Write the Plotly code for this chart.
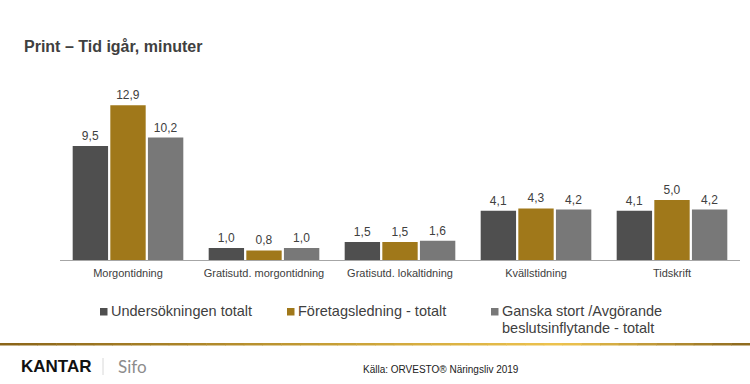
import plotly.graph_objects as go

categories = ["Morgontidning", "Gratisutd. morgontidning", "Gratisutd. lokaltidning", "Kvällstidning", "Tidskrift"]
series_names = ["Undersökningen totalt", "Företagsledning - totalt", "Ganska stort /Avgörande<br>beslutsinflytande - totalt"]
undersokningen = [9.5, 1.0, 1.5, 4.1, 4.1]
foretagsledning = [12.9, 0.8, 1.5, 4.3, 5.0]
ganska_stort = [10.2, 1.0, 1.6, 4.2, 4.2]
series_values = [undersokningen, foretagsledning, ganska_stort]
colors = ["#4f4f4f", "#a0781a", "#787878"]

W, H = 750, 384
L, R, T, B = 60, 10, 92, 124
PW, PH = W - L - R, H - T - B


def px(x):
    return (x - L) / PW


def py(y):
    return (H - B - y) / PH


FONT = "Arial, Liberation Sans, sans-serif"
TXT = "#404040"

fig = go.Figure()
for name, vals, col in zip(series_names, series_values, colors):
    fig.add_trace(go.Bar(
        x=categories, y=vals, name=name.replace("<br>", " "), marker_color=col,
        marker_line_width=0,
        texttemplate="%{y:.1f}", textposition="outside",
        textfont=dict(size=12, color=TXT, family=FONT),
        cliponaxis=False, showlegend=False,
    ))

shapes = []
annotations = []

# Title
annotations.append(dict(text="<b>Print – Tid igår, minuter</b>", x=px(22), y=py(46), xref="paper", yref="paper",
                        xanchor="left", yanchor="middle", showarrow=False,
                        font=dict(size=16, color=TXT, family=FONT)))

# Legend (custom)
sq_x = [100, 287, 491]
for name, col, sx in zip(series_names, colors, sq_x):
    shapes.append(dict(type="rect", xref="paper", yref="paper", x0=px(sx), x1=px(sx + 7.5),
                       y0=py(315.5), y1=py(308), fillcolor=col, line=dict(width=0)))
    for k, line in enumerate(name.split("<br>")):
        annotations.append(dict(text=line, x=px(sx + 9), y=py(311 + 16.5 * k), xref="paper", yref="paper",
                                xanchor="left", yanchor="middle", align="left", showarrow=False,
                                font=dict(size=14.5, color=TXT, family=FONT)))

# Footer gold gradient line
n = 40
stops = [(0.0, (138, 100, 25)), (0.45, (200, 160, 55)), (0.75, (238, 196, 80)), (1.0, (140, 104, 30))]


def grad(t):
    for (t0, c0), (t1, c1) in zip(stops[:-1], stops[1:]):
        if t0 <= t <= t1:
            f = (t - t0) / (t1 - t0)
            return "rgb(%d,%d,%d)" % tuple(int(a + (b - a) * f) for a, b in zip(c0, c1))
    return "rgb(140,104,30)"


for i in range(n):
    x0 = W * i / n
    x1 = W * (i + 1) / n + 0.5
    shapes.append(dict(type="rect", xref="paper", yref="paper", x0=px(x0), x1=px(x1),
                       y0=py(345.5), y1=py(343), fillcolor=grad((i + 0.5) / n), line=dict(width=0)))

# Footer logo and source
annotations.append(dict(text="<b>KANTAR</b>", x=px(19), y=py(366), xref="paper", yref="paper",
                        xanchor="left", yanchor="middle", showarrow=False,
                        font=dict(size=17, color="#111111", family=FONT)))
shapes.append(dict(type="line", xref="paper", yref="paper", x0=px(103), x1=px(103),
                   y0=py(358), y1=py(375), line=dict(color="#d8d8d8", width=1)))
annotations.append(dict(text="Sifo", x=px(116), y=py(366), xref="paper", yref="paper",
                        xanchor="left", yanchor="middle", showarrow=False,
                        font=dict(size=17, color="#8c8c8c", family="Lato, " + FONT)))
annotations.append(dict(text="Källa: ORVESTO® Näringsliv 2019", x=px(361), y=py(369), xref="paper", yref="paper",
                        xanchor="left", yanchor="middle", showarrow=False,
                        font=dict(size=10, color="#222222", family=FONT)))

fig.update_layout(
    width=W, height=H,
    margin=dict(l=L, r=R, t=T, b=B, autoexpand=False),
    paper_bgcolor="white", plot_bgcolor="white",
    barmode="group", bargap=0.17, bargroupgap=0.06,
    separators=", ",
    font=dict(family=FONT, color=TXT),
    xaxis=dict(showline=True, linecolor="#a6a6a6", linewidth=1, ticks="", showgrid=False,
               ticklabelstandoff=3,
               tickfont=dict(size=11, color=TXT, family=FONT)),
    yaxis=dict(range=[0, 14], visible=False, showgrid=False, zeroline=False),
    shapes=shapes, annotations=annotations,
    showlegend=False,
)

fig.write_html("out.html", config={"displayModeBar": False},
               post_script="document.body.style.margin='0';document.body.style.overflow='hidden';")
